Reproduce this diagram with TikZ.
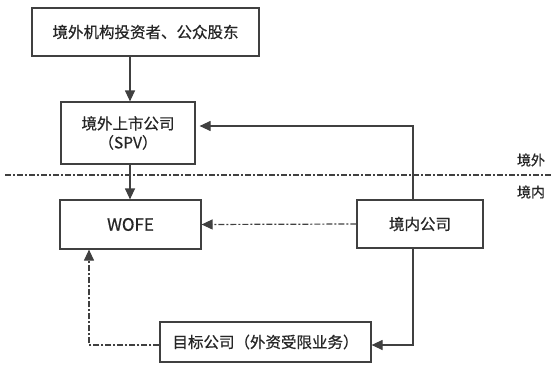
\documentclass[tikz,border=0pt]{standalone}
\usepackage{fontspec}
\setmainfont[FakeBold=0.6]{Noto Sans CJK SC}
\usetikzlibrary{arrows.meta}
\begin{document}
\begin{tikzpicture}[x=1pt,y=-1pt,
  box/.style={draw=black!75,line width=1.2pt,inner sep=0pt,text=black!85,font=\fontsize{15.5}{19}\selectfont},
  conn/.style={draw=black!75,line width=1.2pt,-{Triangle[length=11pt,width=10pt]}},
  dd/.style={dash pattern=on 6pt off 2pt on 2pt off 2pt},
  lbl/.style={font=\fontsize{14}{16}\selectfont,inner sep=0pt,text=black!85}]
\useasboundingbox (0,0) rectangle (551,364);
\node[box,minimum width=227pt,minimum height=48pt] (inv) at (145.5,32) {境外机构投资者、公众股东};
\node[box,minimum width=134pt,minimum height=62pt,align=center] (spv) at (128,133) {境外上市公司\\（SPV）};
\node[box,minimum width=141pt,minimum height=49pt,font=\fontsize{17}{20}\selectfont] (wofe) at (130.5,224.5) {WOFE};
\node[box,minimum width=126pt,minimum height=48pt] (dom) at (420,224) {境内公司};
\node[box,minimum width=211pt,minimum height=40pt] (tgt) at (265.5,342) {目标公司（外资受限业务）};
\node[lbl] (lw) at (531,160) {境外};
\node[lbl] (ln) at (531,192) {境内};
\coordinate (sepL) at (5,175);
\coordinate (sepR) at (551,175);
\draw[draw=black!75,line width=1.2pt,dd] (sepL) -- (sepR);
\draw[conn] (inv.south -| spv.north) ++(2,0) coordinate (a1) (a1) -- (a1 |- spv.north);
\draw[conn] (spv.south) ++(2,0) coordinate (a2) (a2) -- (a2 |- wofe.north);
\coordinate (c1) at (413,126);
\draw[conn,shorten >=4pt] (dom.north -| c1) -- (c1) -- (c1 -| spv.east);
\draw[conn,dd] (dom.west) -- (wofe.east);
\coordinate (c2) at (413,345);
\draw[conn] (dom.south -| c2) -- (c2) -- (c2 -| tgt.east);
\coordinate (c3) at (89,345);
\draw[conn,dd] (c2 -| tgt.west) -- (c3) -- (c3 |- wofe.south);
\end{tikzpicture}
\end{document}
